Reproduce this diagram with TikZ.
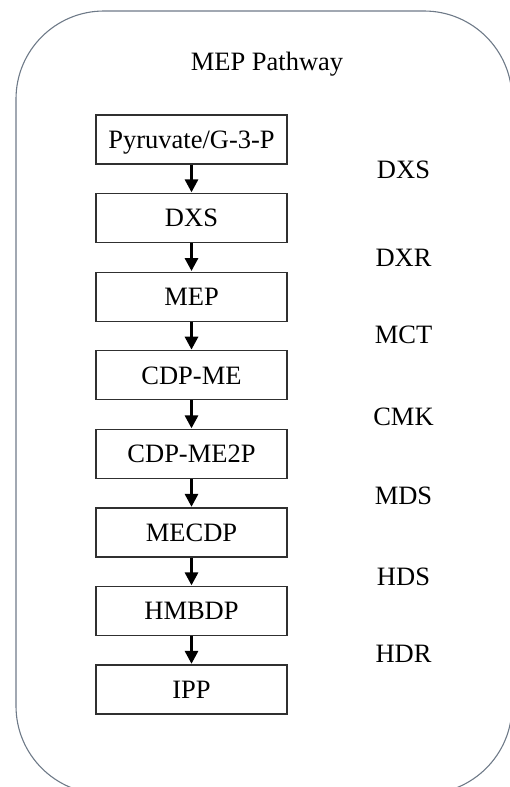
\documentclass[tikz,border=0pt]{standalone}
\usepackage{fontspec}
\setmainfont{Liberation Serif}
\usetikzlibrary{arrows.meta}
\definecolor{frame}{HTML}{6E7A88}
\definecolor{boxline}{HTML}{303030}
\begin{document}
\begin{tikzpicture}[x=1pt,y=-1pt,
  stepbox/.style={draw=boxline, line width=1.3pt, minimum width=191pt, minimum height=49pt,
    inner sep=0pt, font=\fontsize{26.5}{31}\selectfont, text height=17.5pt, text depth=0pt},
  lbl/.style={inner sep=0pt, font=\fontsize{26.5}{31}\selectfont, text height=17.5pt, text depth=0pt},
  flow/.style={line width=3pt, black, -{Triangle[width=13pt,length=13pt]}, shorten >=0.5pt}]
\useasboundingbox (0,0) rectangle (510,787);
\clip (0,0) rectangle (510,787);
\draw[frame, line width=1.1pt, rounded corners=88pt] (16,11) rectangle (512,794);
\node[lbl] (title) at (267,61.5) {MEP Pathway};
\node[stepbox] (b1) at (191.5,139.5) {Pyruvate/G-3-P};
\node[stepbox] (b2) at (191.5,218) {DXS};
\node[stepbox] (b3) at (191.5,296.7) {MEP};
\node[stepbox] (b4) at (191.5,375.3) {CDP-ME};
\node[stepbox] (b5) at (191.5,454) {CDP-ME2P};
\node[stepbox] (b6) at (191.5,532.5) {MECDP};
\node[stepbox] (b7) at (191.5,611) {HMBDP};
\node[stepbox] (b8) at (191.5,689.5) {IPP};
\draw[flow] (b1) -- (b2);
\draw[flow] (b2) -- (b3);
\draw[flow] (b3) -- (b4);
\draw[flow] (b4) -- (b5);
\draw[flow] (b5) -- (b6);
\draw[flow] (b6) -- (b7);
\draw[flow] (b7) -- (b8);
\node[lbl] (e1) at (403.5,169.5) {DXS};
\node[lbl] (e2) at (403.5,257.5) {DXR};
\node[lbl] (e3) at (403.5,335) {MCT};
\node[lbl] (e4) at (403.5,416.5) {CMK};
\node[lbl] (e5) at (403.5,496) {MDS};
\node[lbl] (e6) at (403.5,577) {HDS};
\node[lbl] (e7) at (403.5,654) {HDR};
\end{tikzpicture}
\end{document}
